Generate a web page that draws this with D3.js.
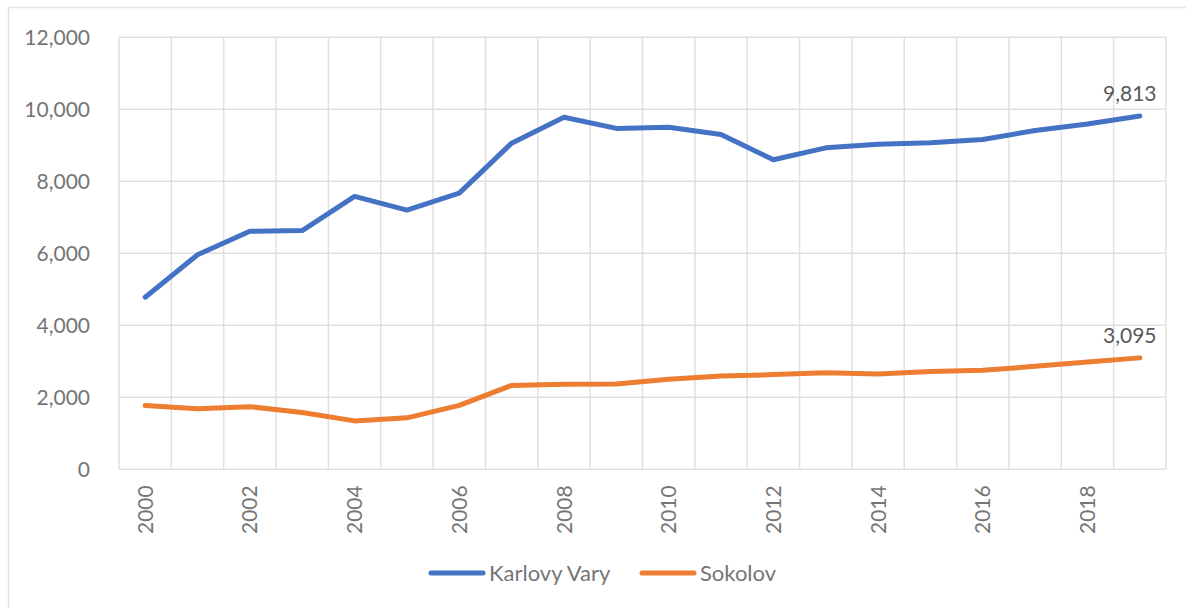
<!DOCTYPE html>
<html><head><meta charset="utf-8">
<script src="https://cdn.jsdelivr.net/npm/d3@7"></script>
<style>body{margin:0;background:#fff}svg{display:block}</style>
</head><body>
<svg id="c" width="1186" height="608"></svg>
<script>
const years = ["2000","2001","2002","2003","2004","2005","2006","2007","2008","2009","2010","2011","2012","2013","2014","2015","2016","2017","2018","2019"];
const karlovyVary = [4780,5960,6610,6630,7580,7200,7670,9060,9780,9470,9500,9300,8600,8930,9030,9070,9160,9410,9590,9813];
const sokolov = [1770,1680,1740,1580,1345,1430,1775,2330,2360,2370,2500,2590,2630,2680,2650,2715,2750,2860,2980,3095];
const yTicks = [0,2000,4000,6000,8000,10000,12000];
const seriesNames = ["Karlovy Vary","Sokolov"];
const colors = ["#4472C4","#ED7D31"];

const svg = d3.select("#c");
const font = "Lato, 'Noto Sans', sans-serif";
const textColor = "#757575";
const gridColor = "#e0e0e0";

svg.append("rect").attr("x",8.5).attr("y",7.5).attr("width",1200).attr("height",620)
  .attr("fill","none").attr("stroke","#e3e3e3").attr("stroke-width",1.5);

const L = 119, R = 1166, T = 37.3, B = 469.3;
const x = d3.scaleBand().domain(years).range([L,R]).padding(0);
const y = d3.scaleLinear().domain([0,12000]).range([B,T]);

const g = svg.append("g");
g.selectAll(".hg").data(yTicks).join("line")
  .attr("x1",L).attr("x2",R).attr("y1",d=>y(d)).attr("y2",d=>y(d))
  .attr("stroke",gridColor).attr("stroke-width",1.5);
const bounds = years.map(d=>x(d)).concat([R]);
g.selectAll(".vg").data(bounds).join("line")
  .attr("x1",d=>d).attr("x2",d=>d).attr("y1",T).attr("y2",B)
  .attr("stroke",gridColor).attr("stroke-width",1.5);

const yAxis = d3.axisLeft(y).tickValues(yTicks).tickSize(0).tickPadding(0).tickFormat(d3.format(","));
const ya = svg.append("g").attr("transform",`translate(${L-29},0)`).call(yAxis);
ya.select(".domain").remove();
ya.selectAll("text").attr("font-family",font).attr("font-size",21).attr("fill",textColor).attr("dy","0.35em");

const xAxis = d3.axisBottom(x).tickValues(years.filter((d,i)=>i%2===0)).tickSize(0).tickPadding(0);
const xa = svg.append("g").attr("transform",`translate(0,${B})`).call(xAxis);
xa.select(".domain").remove();
xa.selectAll("text").attr("font-family",font).attr("font-size",21).attr("fill",textColor)
  .attr("transform","rotate(-90)").attr("text-anchor","end").attr("x",-16).attr("y",0).attr("dy","0.36em");

const line = d3.line().x((d,i)=>x(years[i])+x.bandwidth()/2).y(d=>y(d));
[karlovyVary,sokolov].forEach((s,k)=>{
  svg.append("path").datum(s).attr("d",line).attr("fill","none")
    .attr("stroke",colors[k]).attr("stroke-width",5).attr("stroke-linejoin","round").attr("stroke-linecap","round");
  const last = s.length-1;
  svg.append("text").attr("x",x(years[last])+x.bandwidth()/2-10).attr("y",y(s[last])-15)
    .attr("text-anchor","middle").attr("font-family",font).attr("font-size",21).attr("fill","#595959")
    .text(d3.format(",")(s[last]));
});

const legendItems = [{x0:429,tx:489},{x0:640,tx:700}];
seriesNames.forEach((n,k)=>{
  const li = legendItems[k];
  svg.append("line").attr("x1",li.x0+2).attr("x2",li.x0+54).attr("y1",573).attr("y2",573)
    .attr("stroke",colors[k]).attr("stroke-width",5).attr("stroke-linecap","round");
  svg.append("text").attr("x",li.tx).attr("y",573).attr("dy","0.35em").attr("font-family",font)
    .attr("font-size",22).attr("fill",textColor).text(n);
});
</script>
</body></html>
